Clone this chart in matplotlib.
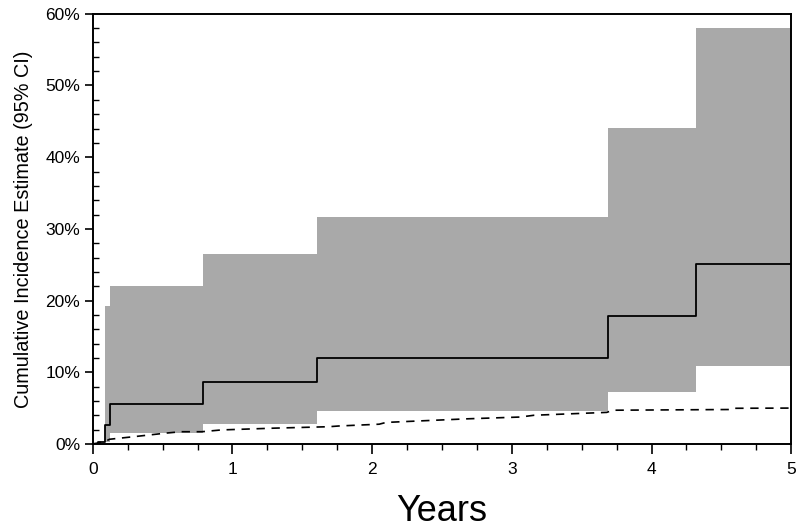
import numpy as np
import matplotlib.pyplot as plt
from matplotlib.ticker import MultipleLocator, FuncFormatter

plt.rcParams['font.family'] = ['Liberation Sans', 'DejaVu Sans']

# Cumulative incidence (step function, percent)
ci_time = [0.0, 0.04, 0.086, 0.124, 0.787, 1.607, 3.69, 4.316, 5.0]
ci_est = [0.0, 0.3, 2.7, 5.6, 8.7, 12.0, 17.9, 25.1, 25.1]
ci_low = [0.0, 0.0, 0.3, 1.5, 2.8, 4.6, 7.2, 10.8, 10.8]
ci_high = [0.0, 0.0, 19.2, 22.0, 26.5, 31.7, 44.1, 58.0, 58.0]

# Expected incidence (dashed)
exp_time = [0.0, 0.084, 0.12, 0.29, 0.52, 0.63, 0.78, 0.92, 1.3, 1.69, 1.76,
            2.05, 2.1, 2.68, 3.06, 3.16, 3.68, 3.72, 4.57, 4.59, 5.0]
exp_val = [0.0, 0.3, 0.65, 1.0, 1.5, 1.7, 1.7, 1.95, 2.2, 2.4, 2.5,
           2.75, 3.0, 3.5, 3.75, 4.0, 4.4, 4.7, 4.8, 4.97, 5.0]

fig = plt.figure(figsize=(8, 5.31), dpi=100)
ax = fig.add_axes([0.116, 0.164, 0.873, 0.81])

ax.fill_between(ci_time, ci_low, ci_high, step='post', color='#a9a9a9', linewidth=0)
ax.step(ci_time, ci_est, where='post', color='black', linewidth=1.3)
ax.plot(exp_time, exp_val, color='black', linewidth=1.2, linestyle=(0, (5, 4)))

ax.set_xlim(0, 5)
ax.set_ylim(0, 60)
ax.xaxis.set_major_locator(MultipleLocator(1))
ax.xaxis.set_minor_locator(MultipleLocator(0.25))
ax.yaxis.set_major_locator(MultipleLocator(10))
ax.yaxis.set_minor_locator(MultipleLocator(2))
ax.yaxis.set_major_formatter(FuncFormatter(lambda v, p: f'{v:.0f}%'))

ax.tick_params(axis='x', which='major', direction='out', length=7, width=1.2, labelsize=12.5, pad=6)
ax.tick_params(axis='x', which='minor', direction='out', length=4, width=1.0)
ax.tick_params(axis='y', which='major', direction='out', length=6, width=1.2, labelsize=12.5, pad=3)
ax.tick_params(axis='y', which='minor', direction='in', length=4, width=1.0)

for s in ax.spines.values():
    s.set_linewidth(1.4)

ax.set_xlabel('Years', fontsize=26, labelpad=12)
ax.set_ylabel('Cumulative Incidence Estimate (95% CI)', fontsize=14.3, labelpad=9)

fig.savefig('out.png', dpi=100)
